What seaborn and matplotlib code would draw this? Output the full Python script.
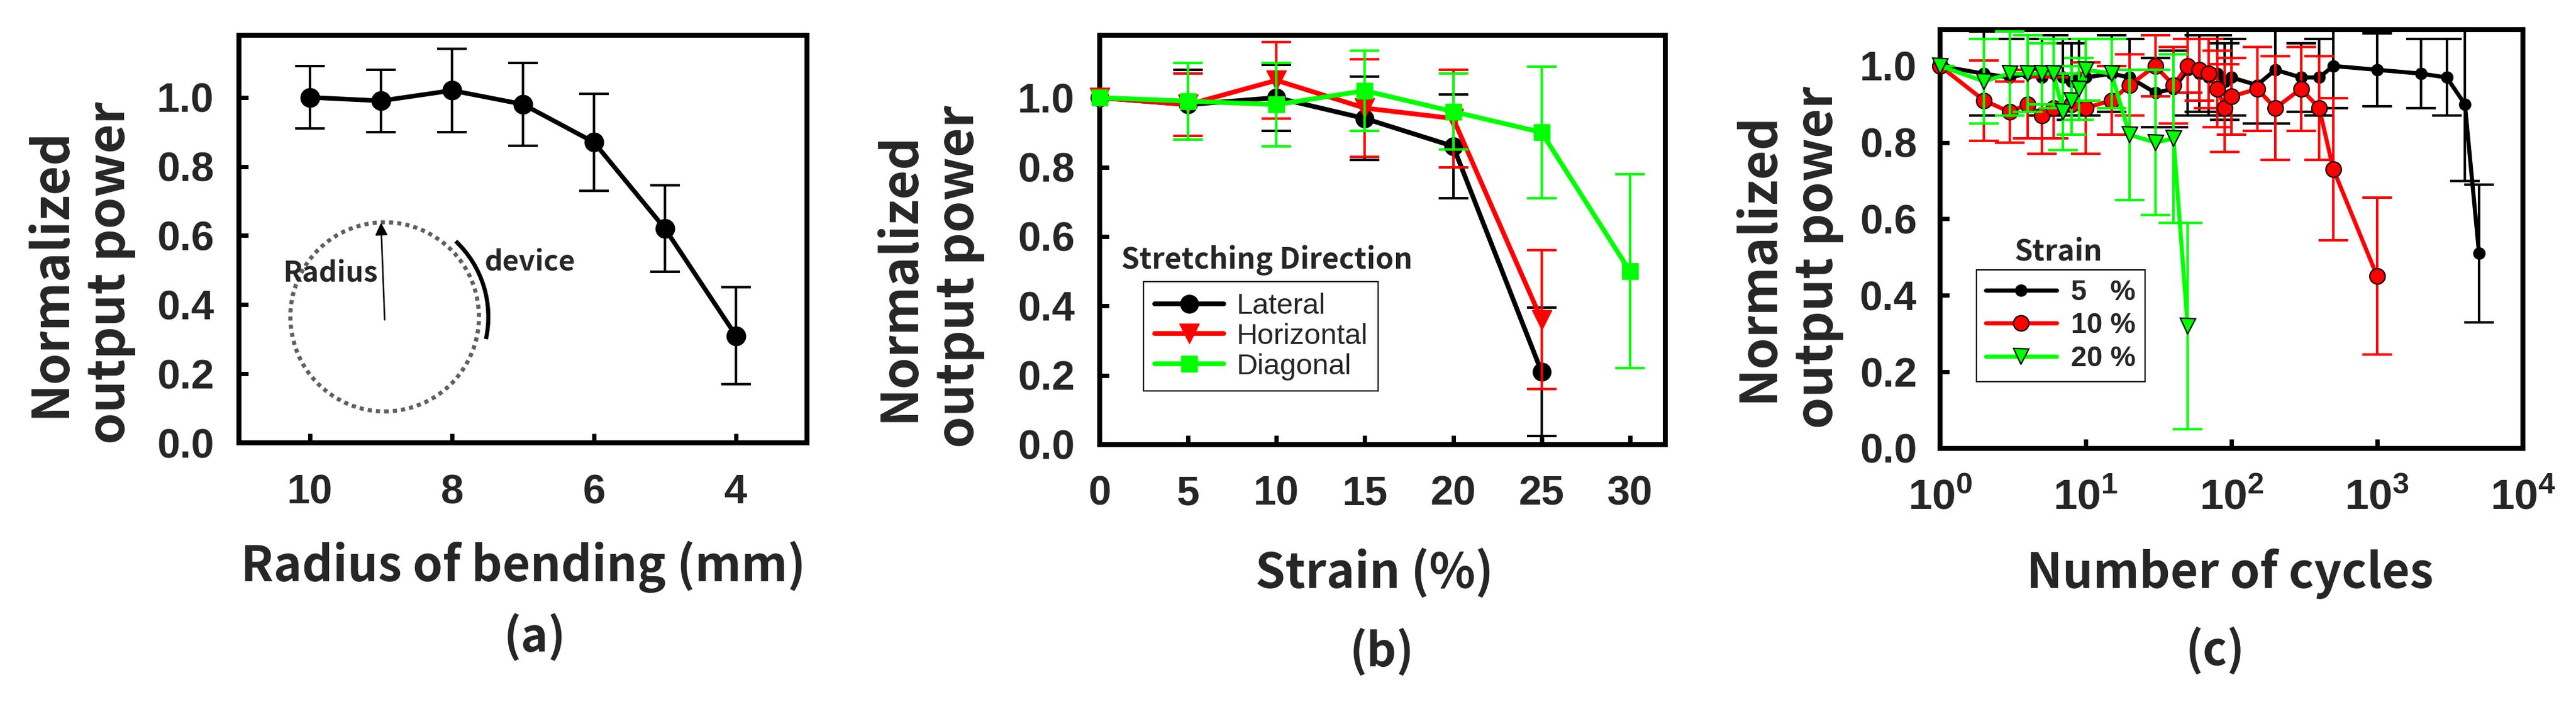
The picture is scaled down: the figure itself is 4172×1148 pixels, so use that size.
import numpy as np
import matplotlib
matplotlib.use("Agg")
import matplotlib.pyplot as plt
import seaborn as sns
from matplotlib.patches import Ellipse, Arc
from matplotlib.font_manager import FontProperties

# ---------------- data ----------------
# (a) bending radius
radius_mm = [10, 9, 8, 7, 6, 5, 4]
radius_power = [1.00, 0.99, 1.02, 0.98, 0.87, 0.62, 0.31]
radius_err = [0.09, 0.09, 0.12, 0.12, 0.14, 0.125, 0.14]
radius_ticks = [10, 8, 6, 4]

# (b) stretching direction
strain_lateral = [0, 5, 10, 15, 20, 25]
power_lateral = [1.00, 0.98, 1.00, 0.94, 0.86, 0.21]
err_lateral = [0.0, 0.10, 0.095, 0.12, 0.15, 0.185]
strain_horizontal = [0, 5, 10, 15, 20, 25]
power_horizontal = [1.00, 0.98, 1.05, 0.97, 0.94, 0.36]
err_horizontal = [0.0, 0.09, 0.11, 0.14, 0.14, 0.20]
strain_diagonal = [0, 5, 10, 15, 20, 25, 30]
power_diagonal = [1.00, 0.99, 0.98, 1.02, 0.96, 0.90, 0.50]
err_diagonal = [0.0, 0.11, 0.12, 0.115, 0.11, 0.19, 0.28]
direction_labels = ["Lateral", "Horizontal", "Diagonal"]
strain_ticks = [0, 5, 10, 15, 20, 25, 30]

# (c) cycling
cycles_5 = [1, 2, 3, 4, 5, 6, 7, 8, 9, 10, 15, 20, 30, 40, 50, 60, 70, 80, 90, 100,
            150, 200, 300, 400, 500, 1000, 2000, 3000, 4000, 5000]
power_5 = [1.00, 0.98, 0.97, 0.98, 0.97, 0.98, 0.97, 0.96, 0.97, 0.97, 0.98, 0.97, 0.93, 0.94,
           0.99, 0.98, 0.97, 0.98, 0.96, 0.97, 0.95, 0.99, 0.97, 0.97, 1.00, 0.99, 0.98, 0.97,
           0.90, 0.51]
err_5 = [0.0, 0.11, 0.10, 0.10, 0.10, 0.10, 0.10, 0.10, 0.10, 0.10, 0.10, 0.10, 0.09, 0.10,
         0.12, 0.10, 0.10, 0.10, 0.10, 0.10, 0.10, 0.14, 0.09, 0.10, 0.11, 0.095, 0.09, 0.10,
         0.20, 0.18]
cycles_10 = [1, 2, 3, 4, 5, 6, 8, 10, 15, 20, 30, 40, 50, 60, 70, 80, 90, 100, 150, 200,
             300, 400, 500, 1000]
power_10 = [1.00, 0.91, 0.88, 0.90, 0.87, 0.89, 0.90, 0.89, 0.91, 0.95, 1.00, 0.95, 1.00,
            0.99, 0.98, 0.94, 0.89, 0.92, 0.94, 0.89, 0.94, 0.89, 0.73, 0.45]
err_10 = [0.0, 0.105, 0.08, 0.09, 0.10, 0.08, 0.08, 0.12, 0.09, 0.08, 0.08, 0.10, 0.07, 0.08,
          0.09, 0.10, 0.115, 0.10, 0.11, 0.135, 0.11, 0.135, 0.185, 0.205]
cycles_20 = [1, 2, 3, 4, 5, 6, 7, 8, 9, 10, 15, 20, 30, 40, 50]
power_20 = [1.00, 0.96, 0.98, 0.98, 0.98, 0.98, 0.88, 0.91, 0.94, 0.99, 0.98, 0.82, 0.80,
            0.81, 0.32]
err_20 = [0.0, 0.11, 0.11, 0.10, 0.08, 0.09, 0.10, 0.09, 0.08, 0.08, 0.09, 0.17, 0.19, 0.22,
          0.27]
strain_labels = ["5   %", "10 %", "20 %"]
cycle_ticks = [1, 10, 100, 1000, 10000]
cycle_tick_labels = [r"$10^{0}$", r"$10^{1}$", r"$10^{2}$", r"$10^{3}$", r"$10^{4}$"]

y_ticks = [0.0, 0.2, 0.4, 0.6, 0.8, 1.0]
y_tick_labels = ["0.0", "0.2", "0.4", "0.6", "0.8", "1.0"]

# ---------------- style ----------------
sns.set_theme(style="white")
plt.rcParams["font.family"] = ["Liberation Sans", "DejaVu Sans"]
plt.rcParams["mathtext.default"] = "regular"

KR = ["Noto Sans CJK KR", "DejaVu Sans"]
tick_fp = FontProperties(family=["Liberation Sans"], weight="bold", size=48)
logtick_fp = FontProperties(family=["Liberation Sans"], weight="bold", size=50)
ylabel_fp = FontProperties(family=KR, weight="bold", size=59)
xlabel_fp = FontProperties(family=KR, weight="bold", size=56)
panel_fp = FontProperties(family=KR, weight="bold", size=54)
title_fp = FontProperties(family=KR, weight="bold", size=34)

GREEN = "#00ff00"
RED = "#ff0000"
W, H = 4172.0, 1148.0


def box(left, right, top, bottom):
    return [left / W, 1 - bottom / H, (right - left) / W, (bottom - top) / H]


fig = plt.figure(figsize=(41.72, 11.48), dpi=100)
fig.patch.set_facecolor("white")
axA = fig.add_axes(box(387, 1307, 57, 717))
axB = fig.add_axes(box(1781, 2697, 57, 720))
axC = fig.add_axes(box(3142, 4086, 48, 726))


def style_axes(ax, xpad=36, ypad=29):
    ax.set_facecolor("white")
    ax.grid(False)
    for s in ax.spines.values():
        s.set_visible(True)
        s.set_color("black")
        s.set_linewidth(5.8)
    ax.tick_params(axis="both", which="major", direction="in", length=11, width=5,
                   color="black", bottom=True, left=True, top=False, right=False)
    ax.tick_params(axis="both", which="minor", bottom=False, left=False, top=False, right=False)
    ax.tick_params(axis="y", pad=ypad)
    ax.tick_params(axis="x", pad=xpad)
    ax.set_yticks(y_ticks)
    ax.set_yticklabels(y_tick_labels, fontproperties=tick_fp)


def set_labels(ax, xlabel, xcoords, ycoords):
    ax.set_xlabel(xlabel, fontproperties=xlabel_fp, va="center")
    ax.xaxis.set_label_coords(*xcoords)
    ax.set_ylabel("Normalized\noutput power", fontproperties=ylabel_fp, va="center",
                  ha="center", multialignment="center", linespacing=1.2)
    ax.yaxis.set_label_coords(*ycoords)


# ---------------- (a) ----------------
axA.errorbar(radius_mm, radius_power, yerr=radius_err, fmt="none", ecolor="black",
             elinewidth=2.9, capsize=17, capthick=2.9, zorder=2)
sns.lineplot(x=radius_mm, y=radius_power, ax=axA, color="black", marker="o", markersize=22,
             markeredgecolor="black", markeredgewidth=1, linewidth=5.3, errorbar=None,
             zorder=3, clip_on=False)
axA.set_xlim(11, 3)
axA.set_ylim(0, 1.18)
style_axes(axA)
axA.set_xticks(radius_ticks)
axA.set_xticklabels([str(t) for t in radius_ticks], fontproperties=tick_fp)
set_labels(axA, "Radius of bending (mm)", (0.50, -0.305), (-0.279, 0.417))

# inset sketch
axA.add_patch(Ellipse((0.2565, 0.309), 0.332, 0.464, transform=axA.transAxes, fill=False,
                      edgecolor="#5f5f5f", linewidth=4.8, linestyle=(0, (1, 1.0)),
                      capstyle="butt"))
axA.add_patch(Arc((0.2565, 0.309), 0.365, 0.51, theta1=-17, theta2=56,
                  transform=axA.transAxes, color="black", linewidth=4.8))
axA.annotate("", xy=(0.250, 0.540), xytext=(0.2565, 0.302), xycoords="axes fraction",
             textcoords="axes fraction",
             arrowprops=dict(arrowstyle="-|>", color="black", lw=1.8, mutation_scale=30,
                             shrinkA=0, shrinkB=0))
axA.text(0.245, 0.414, "Radius", transform=axA.transAxes, ha="right", va="center",
         family=KR, weight="bold", size=33)
axA.text(0.432, 0.442, "device", transform=axA.transAxes, ha="left", va="center",
         family=KR, weight="bold", size=33)

# ---------------- (b) ----------------
b_series = [
    (strain_lateral, power_lateral, err_lateral, "black", "o", 21),
    (strain_horizontal, power_horizontal, err_horizontal, RED, "v", 23),
    (strain_diagonal, power_diagonal, err_diagonal, GREEN, "s", 19),
]
for i, (xs, ys, es, col, mk, ms) in enumerate(b_series):
    axB.errorbar(xs, ys, yerr=es, fmt="none", ecolor=col, elinewidth=2.9, capsize=17,
                 capthick=2.9, zorder=2 + 2 * i)
    sns.lineplot(x=xs, y=ys, ax=axB, color=col, marker=mk, markersize=ms,
                 markeredgecolor=col, markeredgewidth=1, linewidth=5.5, errorbar=None,
                 label=direction_labels[i], zorder=3 + 2 * i, clip_on=False)
axB.set_xlim(0, 32)
axB.set_ylim(0, 1.18)
style_axes(axB)
axB.set_xticks(strain_ticks)
axB.set_xticklabels([str(t) for t in strain_ticks], fontproperties=tick_fp)
set_labels(axB, "Strain (%)", (0.486, -0.315), (-0.301, 0.41))
hB, lB = axB.get_legend_handles_labels()
legB = axB.legend(hB, lB, loc="upper left", bbox_to_anchor=(0.0775, 0.398), borderaxespad=0,
                  prop=FontProperties(family=["Liberation Sans"], size=34),
                  frameon=True, fancybox=False, edgecolor="black", framealpha=1,
                  handlelength=2.37, handletextpad=0.42, labelspacing=0.1, borderpad=0.38)
legB.get_frame().set_linewidth(1.5)
axB.text(0.296, 0.430, "Stretching Direction", transform=axB.transAxes, ha="center",
         va="baseline", fontproperties=title_fp)

# ---------------- (c) ----------------
axC.set_xscale("log")
c_series = [
    (cycles_5, power_5, err_5, "black", "o", 13, "black"),
    (cycles_10, power_10, err_10, RED, "o", 18, "black"),
    (cycles_20, power_20, err_20, GREEN, "v", 18, "black"),
]
for i, (xs, ys, es, col, mk, ms, mec) in enumerate(c_series):
    axC.errorbar(xs, ys, yerr=es, fmt="none", ecolor=col, elinewidth=2.9, capsize=17,
                 capthick=2.9, zorder=2 + 2 * i)
    sns.lineplot(x=xs, y=ys, ax=axC, color=col, marker=mk, markersize=ms,
                 markeredgecolor=mec, markeredgewidth=1.5, linewidth=4.8, errorbar=None,
                 label=strain_labels[i], zorder=3 + 2 * i, clip_on=False)
axC.set_xlim(1, 10000)
axC.set_ylim(0, 1.095)
style_axes(axC, xpad=35, ypad=27)
axC.set_xticks(cycle_ticks)
axC.set_xticklabels(cycle_tick_labels, fontproperties=logtick_fp)
axC.xaxis.set_minor_locator(matplotlib.ticker.NullLocator())
set_labels(axC, "Number of cycles", (0.497, -0.30), (-0.261, 0.456))
hC, lC = axC.get_legend_handles_labels()
legC = axC.legend(hC, lC, loc="upper left", bbox_to_anchor=(0.0625, 0.426), borderaxespad=0,
                  prop=FontProperties(family=["Liberation Sans"], weight="bold", size=33),
                  frameon=True, fancybox=False, edgecolor="black", framealpha=1,
                  handlelength=2.5, handletextpad=0.5, labelspacing=0.2, borderpad=0.33)
legC.get_frame().set_linewidth(1.5)
axC.text(0.2023, 0.447, "Strain", transform=axC.transAxes, ha="center", va="baseline",
         fontproperties=title_fp)

# panel letters
fig.text(866 / W, 1 - 1032 / H, "(a)", ha="center", va="center", fontproperties=panel_fp)
fig.text(2238 / W, 1 - 1056 / H, "(b)", ha="center", va="center", fontproperties=panel_fp)
fig.text(3588 / W, 1 - 1054 / H, "(c)", ha="center", va="center", fontproperties=panel_fp)

fig.savefig("out.png", dpi=100, facecolor="white")
